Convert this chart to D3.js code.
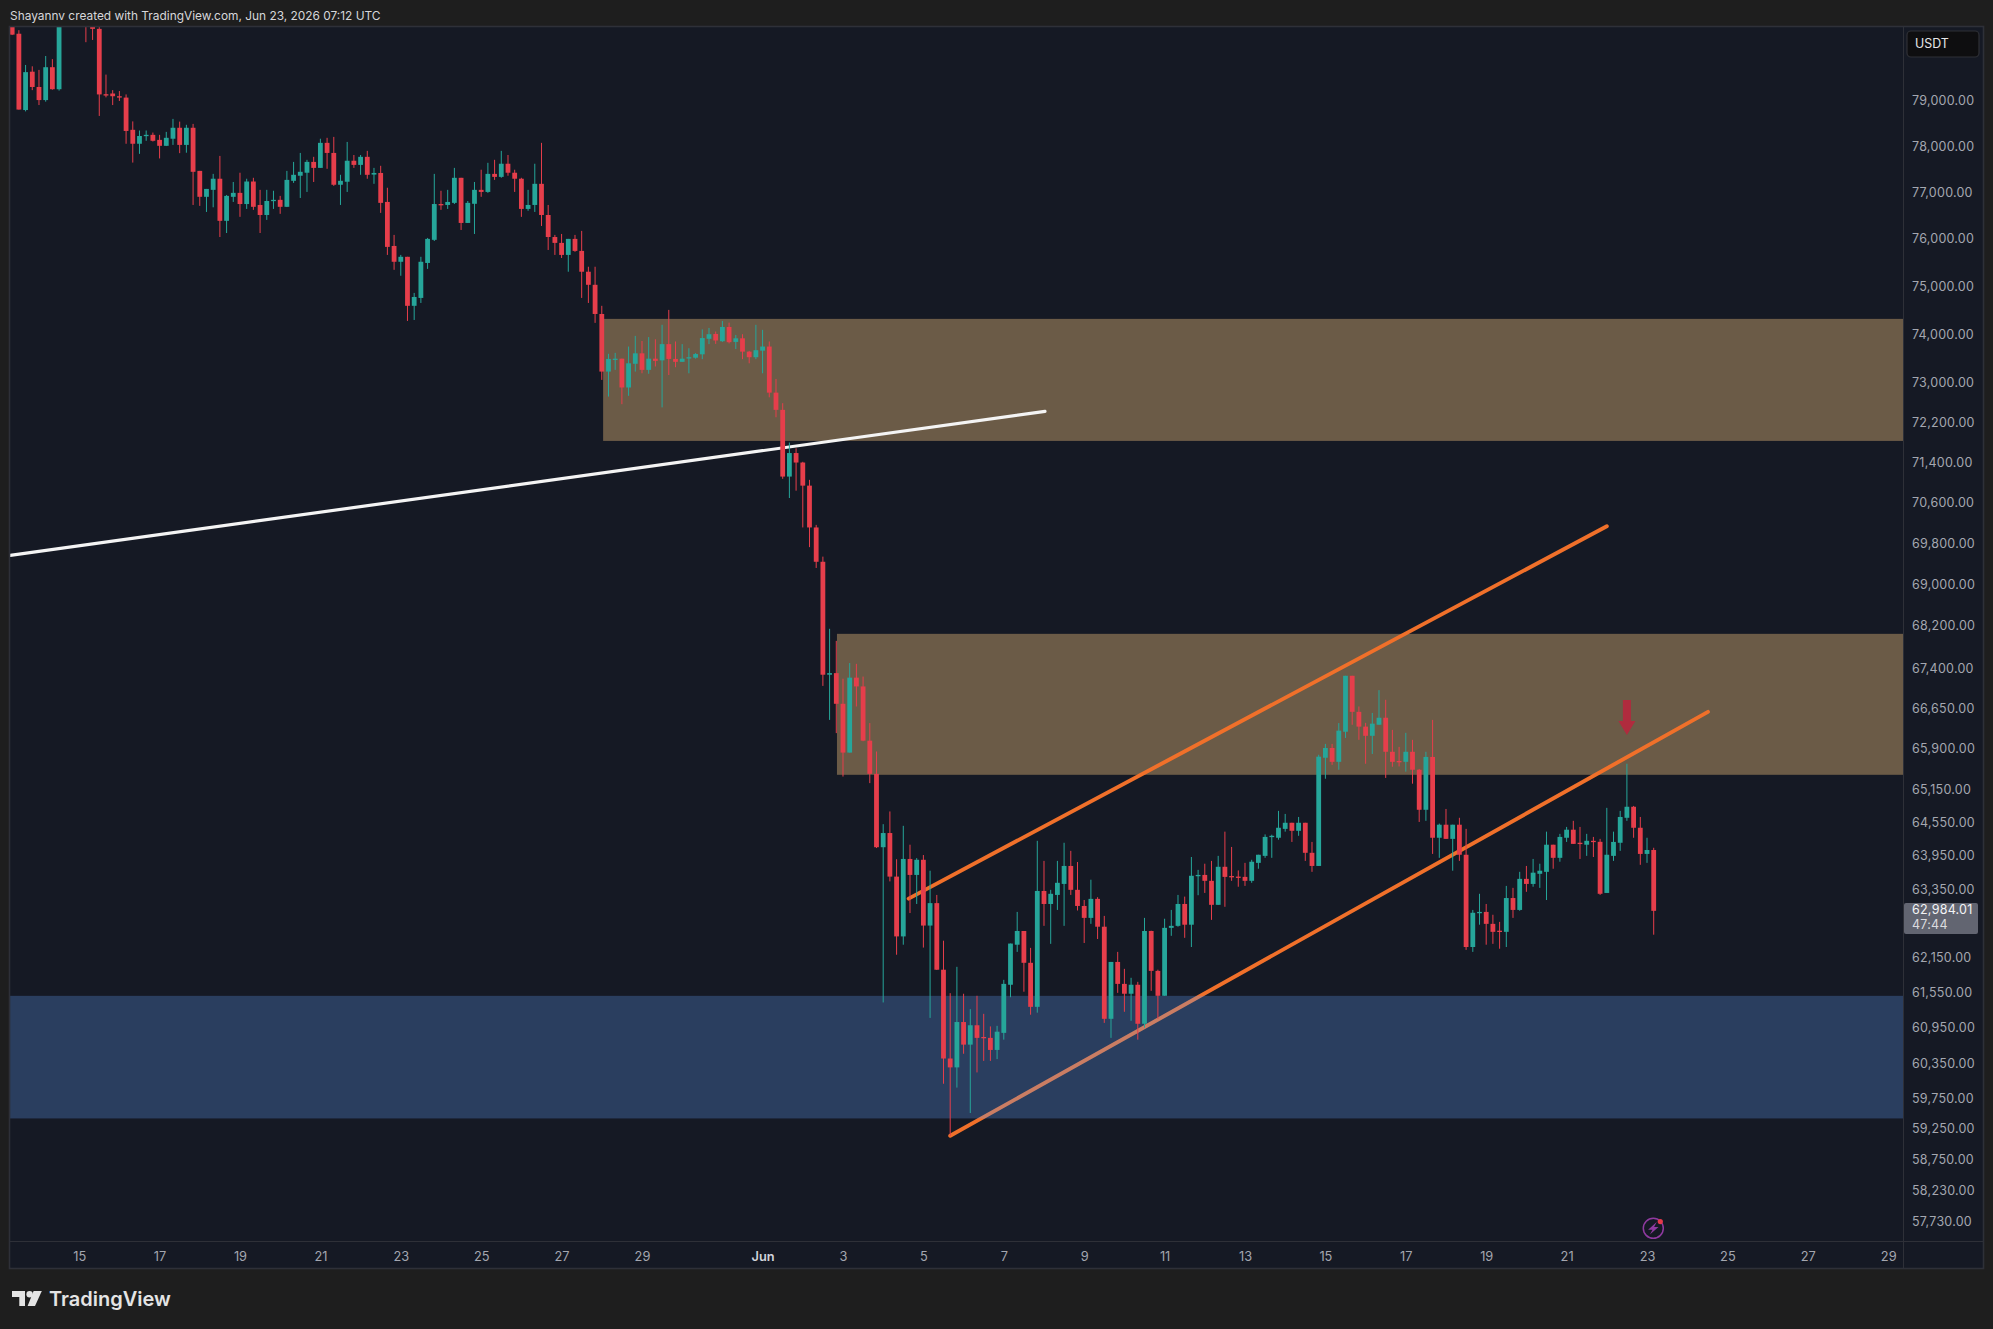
<!DOCTYPE html>
<html><head><meta charset="utf-8">
<style>html,body{margin:0;padding:0;background:#1e1e1e;overflow:hidden}svg{display:block}text{font-family:Inter,Roboto,sans-serif}</style>
<script src="https://cdnjs.cloudflare.com/ajax/libs/d3/7.8.5/d3.min.js"></script>
</head><body><svg id="c" width="1993" height="1329"></svg>
<script>
const opens=[80760,80500,78800,79650,79310,79020,79750,79260,80800,81000,
81200,81000,80720,80610,79150,79165,79105,79075,78365,78060,
78235,78255,78145,78015,78170,78410,78035,78410,77470,76910,
77060,77300,76395,76910,76995,76755,77240,76735,76520,76820,
76845,76695,77255,77365,77430,77665,77535,78080,77860,77170,
77235,77690,77600,77775,77390,77425,76800,75860,75525,75630,
74600,74765,75500,75990,76755,76735,76780,77320,76350,76760,
77060,77015,77405,77340,77625,77430,77300,76650,76735,77190,
76520,76050,75925,75670,76010,75755,75315,75040,74430,73240,
73480,73505,72915,73400,73615,73275,73505,73470,73805,73500,
73440,73510,73525,73595,73915,74015,73865,74160,73850,73925,
73650,73535,73670,73755,72810,72460,71120,71590,71400,70940,
70115,69445,67285,67315,66740,65835,67230,67065,66055,65445,
64115,64370,63590,62535,63905,63620,63890,62725,63120,61955,
60435,60285,61055,60670,61000,60800,60785,60580,60870,61695,
62390,62630,62075,61315,63335,63105,63265,63460,63780,63355,
63070,62860,63195,62705,61110,62090,61710,61540,61695,61025,
62630,61935,61505,62685,62720,63105,62740,63605,63620,63515,
63090,63765,63600,63590,63585,63515,63835,63960,64300,64285,
64445,64555,64410,64555,64015,63780,65740,65920,65665,66220,
67265,66590,66315,66145,66350,66480,65850,65680,65665,65850,
65520,64790,65755,64285,64520,64265,64520,63980,62350,62950,
62965,62755,62635,62615,63210,63000,63550,63460,63640,63675,
64160,63925,64285,64430,64195,64160,64230,64212,63300,63960,
64195,64645,64845,64465,63995,64065];
const highs=[80830,80580,79800,79770,79690,80000,79930,80910,81100,81350,
81400,81200,80800,80680,79585,79240,79220,79145,78550,78350,
78350,78305,78255,78320,78605,78545,78475,78495,77470,77080,
77405,77795,76950,77230,77430,77300,77320,77060,77060,77040,
76930,77470,77665,77860,77710,77775,78170,78190,78210,77385,
78100,77815,77815,77905,77535,77580,77105,76095,75670,75630,
74870,75630,76030,77405,77040,77060,77535,77320,76820,77230,
77495,77645,77710,77905,77815,77495,77320,77060,77625,78080,
76735,76095,76115,76010,76095,76180,75420,75420,74600,73605,
73625,73505,73755,73975,73870,73950,73905,74205,74515,73860,
73805,73720,73620,74110,74140,74065,74285,74250,73995,74010,
73665,74205,74100,73860,73090,72595,71800,71685,71415,71055,
70165,69545,68155,67925,67210,67505,67490,67250,66380,65855,
64530,64760,63900,64500,64160,63920,63975,63695,63265,62460,
61550,62005,61540,61275,61505,61195,60980,60990,61780,62410,
62965,62630,62335,64230,63870,63355,63870,64195,64050,63850,
63175,63535,63225,62895,62090,62265,61970,61815,61745,62860,
62635,61955,62845,63000,63265,63235,63940,63710,63820,63870,
63960,64395,64120,63700,63835,63890,63980,64345,64340,64770,
64715,64555,64660,64555,64210,65795,65995,65995,66380,67265,
67265,66690,66385,66570,66995,66815,66255,65940,66200,66070,
65535,65850,66440,64540,64805,64520,64645,64445,63000,63285,
63105,62915,62790,63425,63390,63675,63780,63905,63820,64395,
64160,64355,64480,64590,64480,64355,64300,64265,64825,64395,
64770,65630,64860,64660,64285,64105];
const lows=[80470,78810,78770,79240,78910,78985,79250,79230,80700,80800,
80900,80310,80360,78670,79080,78910,79000,78060,77650,77840,
78125,78110,77740,78010,78035,77855,77865,76735,76715,76585,
76685,76050,76135,76800,76480,76650,76630,76135,76415,76650,
76545,76690,77210,76885,77015,77230,77535,77515,77145,76735,
77015,77535,77385,77300,77190,76565,75670,75355,75230,74285,
74305,74660,75375,75965,76630,76650,76755,76200,76350,76115,
76910,76995,77275,77320,77365,77015,76480,76610,76585,76285,
75775,75670,75605,75315,75735,74765,74660,74245,73070,72730,
73275,72575,72745,73240,73205,73195,73345,72510,73170,73330,
73440,73205,73505,73495,73805,73810,73850,73820,73705,73495,
73410,73495,73205,72715,72310,71075,70695,70840,70115,69730,
69325,67075,66440,66195,65395,65835,66690,66045,65275,64100,
61390,63505,62215,62390,62945,63105,62340,61125,61950,60010,
59140,59945,60515,59520,60200,60395,60395,60425,60755,61480,
62265,61575,61180,61215,62720,62405,63000,62720,63265,62990,
62420,62755,62490,61040,60785,61555,61230,61075,60755,60960,
61590,61110,61505,62545,62705,62510,62350,63260,63300,62825,
63090,63055,63515,63410,63425,63480,63730,63925,63925,64250,
64395,64210,64320,63870,63675,63780,65355,65610,65520,66105,
66350,66070,65630,65810,66350,65370,65575,65580,65485,65265,
64570,64590,63995,63925,64265,63695,63870,62300,62265,62740,
62390,62405,62320,62350,62860,62985,63320,63410,63390,63175,
63730,63855,64210,64175,63905,63960,63940,63265,63300,63870,
64050,64590,64285,63800,63835,62565];
const closes=[80480,78810,79640,79310,79020,79750,79260,80800,81000,81200,
81000,80720,80610,79145,79120,79105,79075,78340,78060,78230,
78255,78125,78015,78190,78410,78035,78410,77450,76910,77080,
77300,76395,76930,76995,76755,77240,76695,76520,76820,76845,
76695,77275,77385,77450,77665,77535,78080,77860,77170,77255,
77690,77600,77775,77385,77425,76780,75840,75525,75630,74600,
74785,75525,76010,76755,76735,76800,77320,76350,76780,77060,
77015,77405,77340,77625,77430,77300,76650,76735,77190,76520,
76050,75925,75670,76010,75755,75315,75040,74430,73240,73500,
73505,72915,73410,73615,73275,73505,73460,73805,73500,73440,
73505,73535,73600,73930,74010,73880,74160,73845,73925,73650,
73535,73680,73755,72810,72460,71120,71590,71400,70940,70115,
69445,67285,67315,66740,65835,67230,67065,66055,65445,64115,
64370,63590,62535,63905,63620,63890,62725,63120,61955,60435,
60285,61055,60670,61000,60785,60780,60580,60890,61710,62410,
62630,62075,61315,63335,63105,63285,63480,63780,63355,63070,
62860,63195,62705,61110,62090,61710,61540,61695,61025,62630,
61935,61505,62685,62720,63105,62740,63605,63620,63515,63090,
63765,63585,63585,63570,63515,63855,63980,64300,64320,64465,
64555,64410,64555,64015,63780,65760,65920,65665,66240,67265,
66590,66315,66145,66370,66480,65850,65665,65665,65850,65520,
64790,65755,64285,64520,64265,64520,63980,62350,62950,62965,
62755,62615,62615,63210,63000,63550,63460,63660,63695,64160,
63925,64300,64430,64175,64175,64230,64212,63285,63980,64210,
64660,64845,64465,63995,64065,62984.01];

const priceTicks=[79000,78000,77000,76000,75000,74000,73000,72200,71400,70600,69800,69000,68200,67400,66650,65900,65150,64550,63950,63350,62150,61550,60950,60350,59750,59250,58750,58230,57730];
const dayTicks=["2026-05-15","2026-05-17","2026-05-19","2026-05-21","2026-05-23","2026-05-25","2026-05-27","2026-05-29","2026-06-01","2026-06-03","2026-06-05","2026-06-07","2026-06-09","2026-06-11","2026-06-13","2026-06-15","2026-06-17","2026-06-19","2026-06-21","2026-06-23","2026-06-25","2026-06-27","2026-06-29"];
const lastBarTime="2026-06-23T04:00:00Z";
const lastPrice=62984.01, countdown="47:44";
const headerText="Shayannv created with TradingView.com, Jun 23, 2026 07:12 UTC";
// zones: [start bar, end bar, top price, bottom price]
const tanZones=[[88.2,300,74328,71833],[123.1,300,68059,65427]];
const blueZone=[-5,300,61504,59430];
// trend lines: [bar, price, bar, price]
const whiteLine=[-0.3,69570,154.15,72429];
const orangeLines=[[133.8,63200,238,70138],[140,59142,253.1,66590]];
const arrowBar=241, arrowTipPrice=66160;

const W=1993,H=1329,L=10,R=1903,T=27,B=1241,OR=1983,OB=1268;
const n=opens.length, t0=new Date(lastBarTime).getTime(), H4=4*3600e3;
const timeOf=i=>new Date(t0-(n-1-i)*H4);
const x=d3.scaleUtc().domain([new Date("2026-05-13T06:42:00Z"),new Date("2026-06-29T08:50:00Z")]).range([L,R]);
const y=d3.scaleLog().domain([80652,57427]).range([T,B]);
const bx=i=>x(timeOf(i));

const svg=d3.select("#c");
svg.append("rect").attr("width",W).attr("height",H).attr("fill","#1e1e1e");
svg.append("rect").attr("x",L).attr("y",T).attr("width",OR-L).attr("height",OB-T).attr("fill","#151924");
svg.append("defs").append("clipPath").attr("id","pane").append("rect").attr("x",L).attr("y",T).attr("width",R-L).attr("height",B-T);
const g=svg.append("g").attr("clip-path","url(#pane)");
g.selectAll(".tan").data(tanZones).join("rect").attr("x",d=>bx(d[0])).attr("y",d=>y(d[2])).attr("width",d=>bx(d[1])-bx(d[0])).attr("height",d=>y(d[3])-y(d[2])).attr("fill","#6b5b47");
const seg=(d,c,w)=>g.append("line").attr("x1",bx(d[0])).attr("y1",y(d[1])).attr("x2",bx(d[2])).attr("y2",y(d[3])).attr("stroke",c).attr("stroke-width",w).attr("stroke-linecap","round");
seg(whiteLine,"#f4f4f4",3.2);
orangeLines.forEach(d=>seg(d,"#f0702a",3.9));
g.append("rect").attr("x",bx(blueZone[0])).attr("y",y(blueZone[2])).attr("width",bx(blueZone[1])-bx(blueZone[0])).attr("height",y(blueZone[3])-y(blueZone[2])).attr("fill","rgba(100,163,255,0.27)");

const idx=d3.range(n), up=i=>closes[i]>=opens[i], RED="#e63e4b", GREEN="#26a69a";
g.selectAll(".wick").data(idx).join("line").attr("x1",bx).attr("x2",bx).attr("y1",i=>y(highs[i])).attr("y2",i=>y(lows[i])).attr("stroke",i=>up(i)?GREEN:RED).attr("stroke-width",1);
g.selectAll(".body").data(idx).join("rect").attr("x",i=>bx(i)-2.4).attr("width",4.8)
 .attr("y",i=>y(Math.max(opens[i],closes[i])))
 .attr("height",i=>Math.max(1.3,Math.abs(y(opens[i])-y(closes[i]))))
 .attr("fill",i=>up(i)?GREEN:RED);

// red arrow
const ax=bx(arrowBar), ay=y(arrowTipPrice);
g.append("path").attr("d",`M${ax-4},${ay-35}H${ax+4}V${ay-14}H${ax+8.5}L${ax},${ay}L${ax-8.5},${ay-14}H${ax-4}Z`).attr("fill","#b02b3e");

// frames
const frame="#2e3038";
svg.append("rect").attr("x",L-.5).attr("y",T-.5).attr("width",OR-L+1).attr("height",OB-T+1).attr("fill","none").attr("stroke",frame).attr("stroke-width",1.6);
svg.append("line").attr("x1",R+.5).attr("x2",R+.5).attr("y1",T).attr("y2",OB).attr("stroke",frame);
svg.append("line").attr("x1",L).attr("x2",OR).attr("y1",B+.5).attr("y2",B+.5).attr("stroke",frame);

// axes
const yAxis=svg.append("g").attr("transform",`translate(${R+9},-0.5)`).call(d3.axisRight(y).tickValues(priceTicks).tickFormat(d3.format(",.2f")).tickSize(0).tickPadding(0));
yAxis.select(".domain").remove();
yAxis.selectAll("text").attr("fill","#a4a7b0").style("font-size","12.5px").style("letter-spacing","0.25px");
const dayFmt=d=>d.getUTCDate()===1?d3.utcFormat("%b")(d):d3.utcFormat("%-d")(d);
const xAxis=svg.append("g").attr("transform",`translate(0,${B})`).call(d3.axisBottom(x).tickValues(dayTicks.map(s=>new Date(s+"T00:00:00Z"))).tickFormat(dayFmt).tickSize(0).tickPadding(0));
xAxis.select(".domain").remove();
xAxis.selectAll("text").attr("y",10.5).attr("dy","0.71em").attr("fill","#a4a7b0").style("font-size","12.8px");
xAxis.selectAll("text").filter(d=>d.getUTCDate()===1).attr("fill","#d1d4dc").style("font-weight",600);

// price label
svg.append("rect").attr("x",R+1).attr("y",903).attr("width",74).attr("height",31).attr("rx",2).attr("fill","#626571");
svg.append("text").attr("x",R+9).attr("y",y(lastPrice)-.5).attr("dy","0.32em").attr("fill","#f2f3f5").style("font-size","12.5px").style("letter-spacing","0.25px").text(d3.format(",.2f")(lastPrice));
svg.append("text").attr("x",R+9).attr("y",y(lastPrice)+14).attr("dy","0.32em").attr("fill","#dadbdf").style("font-size","12.5px").style("letter-spacing","0.25px").text(countdown);

// USDT box
svg.append("rect").attr("x",1907).attr("y",31).attr("width",72).attr("height",26).attr("rx",4).attr("fill","#0e0e10").attr("stroke","#2f3036").attr("stroke-width",1.2);
svg.append("text").attr("x",1915).attr("y",44).attr("dy","0.35em").attr("fill","#e6e6e8").style("font-size","12.4px").text("USDT");

// header
svg.append("text").attr("x",10).attr("y",15.5).attr("dy","0.35em").attr("fill","#d6d7da").style("font-size","11.9px").text(headerText);

// lightning icon
const ic=svg.append("g").attr("transform","translate(1653.3,1228.3)");
ic.append("circle").attr("r",10).attr("fill","none").attr("stroke","#8f3aa0").attr("stroke-width",1.5);
ic.append("path").attr("d","M3.4,-6.2L-5.2,1.4H-0.8L-3.4,6.2L5.2,-1.2H0.8Z").attr("fill","#8f3aa0");
ic.append("circle").attr("cx",7).attr("cy",-6.7).attr("r",2.6).attr("fill","#e6394a");

// logo
const lg=svg.append("g").attr("fill","#e4e4e4");
lg.append("path").attr("d","M12,1291H25V1306H19.3V1297H12Z");
lg.append("circle").attr("cx",29.6).attr("cy",1294.3).attr("r",3.2);
lg.append("path").attr("d","M33.6,1291H41.8L35,1306H27.6Z");
svg.append("text").attr("x",49).attr("y",1298.5).attr("dy","0.35em").attr("fill","#e4e4e4").style("font-size","20px").style("font-weight",600).text("TradingView");
</script></body></html>
